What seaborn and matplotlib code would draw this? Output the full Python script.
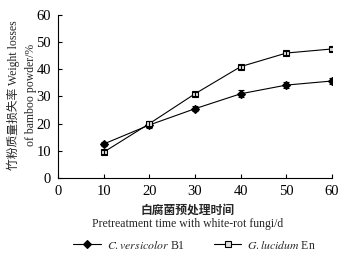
import matplotlib
matplotlib.use('Agg')
import matplotlib.pyplot as plt
import seaborn as sns
import pandas as pd

sns.set_theme(style="white")
plt.rcParams['font.family'] = ['Liberation Serif', 'Noto Sans CJK SC']
plt.rcParams['mathtext.fontset'] = 'stix'

days = [10, 20, 30, 40, 50, 60]
cv_loss = [12.5, 19.5, 25.5, 31.0, 34.2, 35.7]
cv_err = [0.8, 1.0, 1.0, 1.3, 1.0, 1.1]
gl_loss = [9.5, 20.0, 31.0, 41.0, 46.0, 47.5]
gl_err = [0.8, 0.8, 0.8, 0.7, 0.8, 0.8]

df = pd.DataFrame({
    'day': days * 2,
    'loss': cv_loss + gl_loss,
    'err': cv_err + gl_err,
    'strain': ['cv'] * 6 + ['gl'] * 6,
})

fig = plt.figure(figsize=(3.54, 2.59), dpi=100)
ax = fig.add_axes([0.164, 0.313, 0.774, 0.629])

styles = {'cv': dict(marker='D', mfc='black', ms=4),
          'gl': dict(marker='s', mfc='#e0e0e0', ms=5)}
handles = []
for s in ['cv', 'gl']:
    d = df[df.strain == s]
    sns.lineplot(data=d, x='day', y='loss', ax=ax, color='black', lw=0.8,
                 marker=styles[s]['marker'], markersize=styles[s]['ms'],
                 markerfacecolor=styles[s]['mfc'], markeredgecolor='black',
                 markeredgewidth=0.8, legend=False)
    ax.errorbar(d.day, d.loss, yerr=d.err, fmt='none', ecolor='black',
                elinewidth=0.8, capsize=2.5, capthick=0.8)
    h, = ax.plot([], [], color='black', lw=0.8, marker=styles[s]['marker'],
                 markersize=styles[s]['ms'], markerfacecolor=styles[s]['mfc'],
                 markeredgecolor='black', markeredgewidth=0.8)
    handles.append(h)

ax.set_xlim(0, 60)
ax.set_ylim(0, 60)
ax.set_xticks(range(0, 61, 10))
ax.set_yticks(range(0, 61, 10))
for sp in ['top', 'right']:
    ax.spines[sp].set_visible(False)
for sp in ['left', 'bottom']:
    ax.spines[sp].set_color('black')
    ax.spines[sp].set_linewidth(0.8)
ax.tick_params(direction='in', length=3, width=0.8, labelsize=10.5, colors='black',
               left=True, bottom=True, pad=5)
ax.set_xlabel('')
ax.set_ylabel('')

fig.text(0.53, 0.19, '白腐菌预处理时间', ha='center', va='center', fontsize=8.5,
         family=['Noto Sans CJK SC'], fontweight='bold')
fig.text(0.53, 0.136, 'Pretreatment time with white-rot fungi/d', ha='center',
         va='center', fontsize=8.5)
fig.text(0.037, 0.633, '竹粉质量损失率 Weight losses', rotation=90, ha='center',
         va='center', fontsize=8.5)
fig.text(0.088, 0.633, 'of bamboo powder/%', rotation=90, ha='center', va='center',
         fontsize=8.5)

fig.legend(handles, [r'$\it{C.versicolor}$ B1', r'$\it{G.lucidum}$ En'],
           loc='center', bbox_to_anchor=(0.55, 0.052), ncol=2, frameon=False,
           fontsize=8.5, handlelength=2.3, handletextpad=0.5, columnspacing=2.5,
           borderaxespad=0)

fig.savefig('out.png', dpi=100)
